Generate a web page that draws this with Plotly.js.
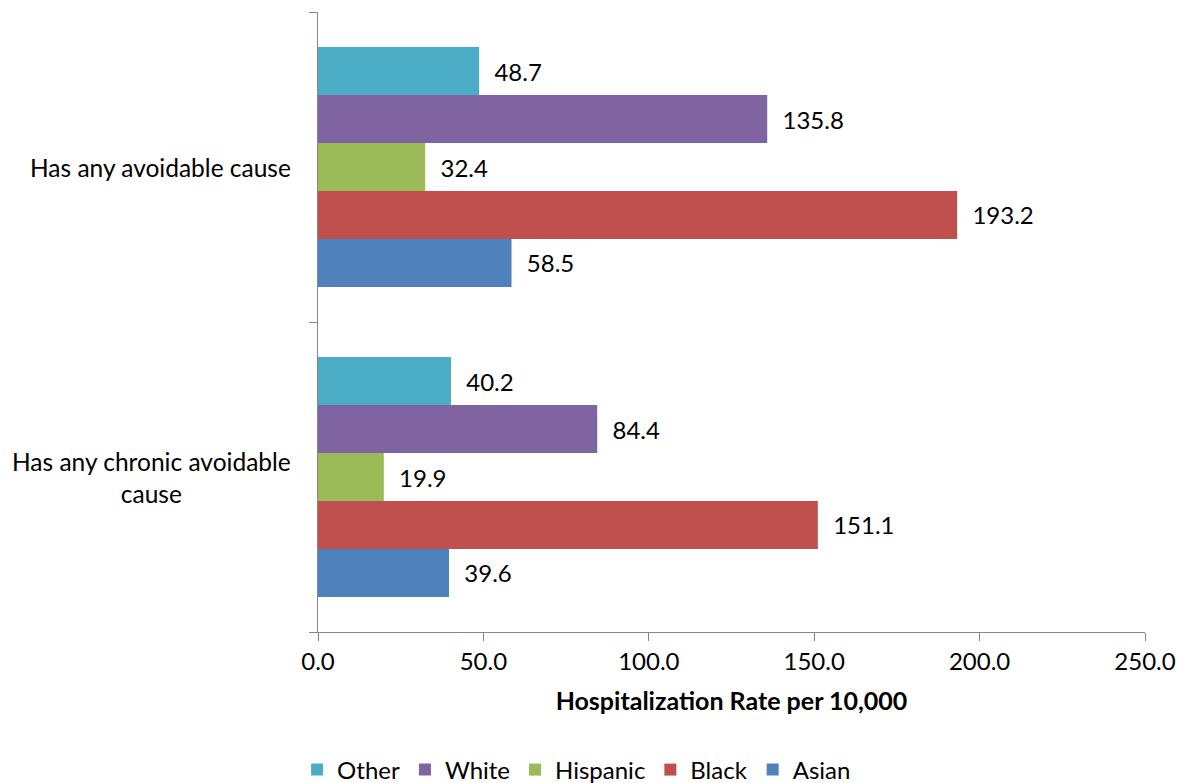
<!DOCTYPE html>
<html>
<head>
<meta charset="utf-8">
<script src="https://cdn.plot.ly/plotly-3.0.1.min.js"></script>
<style>html,body{margin:0;padding:0;background:#fff;}#chart{width:1184px;height:783px;}</style>
</head>
<body>
<div id="chart"></div>
<script>
// Categories (bottom to top on the axis)
var categories = ["Has any chronic avoidable cause", "Has any avoidable cause"];
var categoryLabels = ["Has any chronic avoidable<br>cause", "Has any avoidable cause"];
// Series (bottom to top inside each group)
var seriesNames = ["Asian", "Black", "Hispanic", "White", "Other"];
var asian = [39.6, 58.5];
var black = [151.1, 193.2];
var hispanic = [19.9, 32.4];
var white = [84.4, 135.8];
var other = [40.2, 48.7];
var seriesValues = [asian, black, hispanic, white, other];
var seriesColors = ["#4F81BD", "#C0504D", "#9BBB59", "#8064A2", "#4BACC6"];
var xTicks = [0, 50, 100, 150, 200, 250];
var xTickLabels = ["0.0", "50.0", "100.0", "150.0", "200.0", "250.0"];

var FONT = "Lato, 'Open Sans', sans-serif";

var traces = seriesNames.map(function (name, i) {
  return {
    type: "bar",
    orientation: "h",
    name: name,
    y: categories,
    x: seriesValues[i],
    marker: { color: seriesColors[i] },
    text: seriesValues[i].map(function (v) { return "\u00a0\u00a0" + v.toFixed(1); }),
    textposition: "outside",
    textfont: { family: FONT, size: 24, color: "#000" },
    cliponaxis: false,
    hoverinfo: "x+name"
  };
});

var annotations = categories.map(function (c, i) {
  return {
    xref: "paper", yref: "y",
    x: 0, y: c,
    xshift: -25,
    xanchor: "right", yanchor: "middle",
    align: "center",
    text: categoryLabels[i],
    showarrow: false,
    font: { family: FONT, size: 24.5, color: "#000" }
  };
});

var layout = {
  width: 1184, height: 783,
  margin: { l: 318, r: 39, t: 12, b: 151 },
  paper_bgcolor: "#fff", plot_bgcolor: "#fff",
  barmode: "group",
  bargap: 0.226,
  bargroupgap: 0,
  font: { family: FONT, size: 24, color: "#000" },
  xaxis: {
    range: [0, 250],
    tickvals: xTicks,
    ticktext: xTickLabels,
    ticks: "outside", ticklen: 8, tickcolor: "#868686", tickwidth: 1,
    showline: true, linecolor: "#868686", linewidth: 1,
    showgrid: false, zeroline: false,
    tickfont: { family: FONT, size: 24, color: "#000" },
    title: { text: "<b>Hospitalization Rate per 10,000</b>", font: { family: FONT, size: 25, color: "#000" }, standoff: 18 },
    fixedrange: true
  },
  yaxis: {
    type: "category",
    categoryorder: "array", categoryarray: categories,
    tickson: "boundaries",
    ticks: "outside", ticklen: 8, tickcolor: "#868686", tickwidth: 1,
    showticklabels: false,
    showline: true, linecolor: "#868686", linewidth: 1,
    showgrid: false, zeroline: false,
    fixedrange: true
  },
  showlegend: true,
  legend: {
    orientation: "h",
    traceorder: "reversed",
    xref: "container", yref: "container",
    x: 0.487, xanchor: "center",
    y: 0.0166, yanchor: "middle",
    font: { family: FONT, size: 24, color: "#000" },
    itemwidth: 30
  },
  annotations: annotations
};

Plotly.newPlot("chart", traces, layout, { displayModeBar: false, staticPlot: true });
</script>
</body>
</html>
